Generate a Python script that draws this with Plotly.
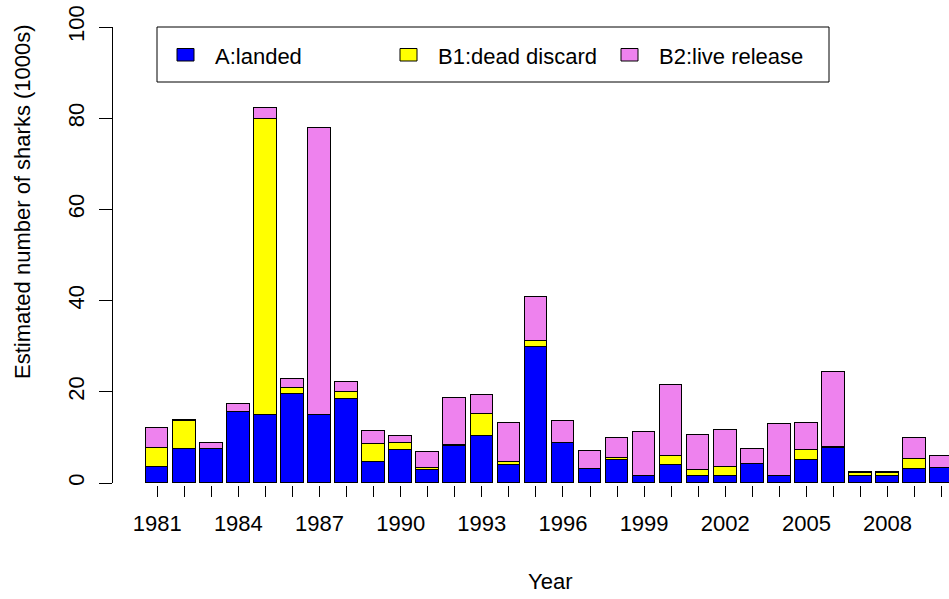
import plotly.graph_objects as go

# Recreational shark catch estimates (thousands of fish) by year and disposition
years = list(range(1981, 2011))
landed = [3.5, 7.5, 7.5, 15.6, 14.9, 19.5, 14.9, 18.4, 4.7, 7.2,
          2.8, 8.1, 10.3, 4.0, 29.9, 8.8, 3.1, 5.0, 1.5, 4.0,
          1.6, 1.6, 4.1, 1.6, 5.0, 7.6, 1.6, 1.6, 3.1, 3.4]
dead_discard = [4.2, 6.1, 0.0, 0.0, 64.9, 1.4, 0.0, 1.6, 3.8, 1.6,
                0.6, 0.3, 4.9, 0.7, 1.2, 0.0, 0.0, 0.5, 0.0, 1.9,
                1.3, 1.9, 0.0, 0.0, 2.2, 0.3, 0.5, 0.5, 2.2, 0.0]
live_release = [4.4, 0.2, 1.2, 1.7, 2.5, 1.8, 62.9, 2.1, 2.8, 1.5,
                3.4, 10.2, 4.1, 8.4, 9.7, 4.8, 4.0, 4.4, 9.7, 15.6,
                7.7, 8.1, 3.3, 11.4, 5.9, 16.5, 0.3, 0.3, 4.6, 2.5]

series_names = ["A:landed", "B1:dead discard", "B2:live release"]
series_values = [landed, dead_discard, live_release]
series_colors = ["#0000FF", "#FFFF00", "#EE82EE"]

y_ticks = [0, 20, 40, 60, 80, 100]
x_labels = [str(y) if (y - 1981) % 3 == 0 else "" for y in years]

FONT = "Liberation Sans, Arial, Helvetica, sans-serif"
FS = 22

# figure geometry (pixels)
W, H = 949, 599
L, R, T, B = 113, 0, 27, 114
PW, PH = W - L - R, H - T - B


def px_x(px):
    return (px - L) / PW


def px_y(py):
    return (H - B - py) / PH


fig = go.Figure()
for name, vals, color in zip(series_names, series_values, series_colors):
    fig.add_trace(go.Bar(
        x=years, y=vals, name=name, width=0.833,
        marker=dict(color=color, line=dict(color="black", width=1)),
    ))

# legend box with fill swatches
shapes = [dict(type="rect", xref="paper", yref="paper",
               x0=px_x(157), x1=px_x(829), y0=px_y(82), y1=px_y(27),
               line=dict(color="black", width=1), fillcolor="rgba(0,0,0,0)")]
annotations = []
swatch_x = [177, 400, 621]
text_x = [213, 436, 657]
for name, color, sx, tx in zip(series_names, series_colors, swatch_x, text_x):
    shapes.append(dict(type="rect", xref="paper", yref="paper",
                       x0=px_x(sx), x1=px_x(sx + 17), y0=px_y(61), y1=px_y(48.5),
                       line=dict(color="black", width=1), fillcolor=color))
    annotations.append(dict(text=name, xref="paper", yref="paper",
                            x=px_x(tx), y=px_y(56.5), xanchor="left", yanchor="middle",
                            showarrow=False, font=dict(family=FONT, size=FS, color="black")))

# axis titles
annotations.append(dict(text="Year", xref="paper", yref="paper",
                        x=px_x(550), y=px_y(581), xanchor="center", yanchor="middle",
                        showarrow=False, font=dict(family=FONT, size=FS, color="black")))
annotations.append(dict(text="Estimated number of sharks (1000s)", xref="paper", yref="paper",
                        x=px_x(23), y=px_y(202), xanchor="center", yanchor="middle",
                        textangle=-90, showarrow=False,
                        font=dict(family=FONT, size=FS, color="black")))

fig.update_layout(
    width=W, height=H,
    margin=dict(l=L, r=R, t=T, b=B, pad=0),
    barmode="stack",
    bargap=0,
    showlegend=False,
    plot_bgcolor="white",
    paper_bgcolor="white",
    font=dict(family=FONT, size=FS, color="black"),
    shapes=shapes,
    annotations=annotations,
    xaxis=dict(
        range=[1981 - 44.2 / 27.05, 1981 + 791.8 / 27.05],
        anchor="free", position=0,
        tickmode="array", tickvals=years, ticktext=x_labels,
        ticks="outside", ticklen=11, tickwidth=1, tickcolor="black",
        showline=False, showgrid=False, zeroline=False,
        tickfont=dict(family=FONT, size=FS, color="black"),
        ticklabelstandoff=8,
    ),
    yaxis=dict(
        range=[0, 100], domain=[px_y(483), 1],
        tickmode="array", tickvals=y_ticks, ticktext=[str(v) for v in y_ticks],
        tickangle=-90,
        ticks="outside", ticklen=13, tickwidth=1, tickcolor="black",
        showline=True, linecolor="black", linewidth=1,
        showgrid=False, zeroline=False,
        tickfont=dict(family=FONT, size=FS, color="black"),
        ticklabelstandoff=6,
    ),
)

fig.write_html("out.html")
